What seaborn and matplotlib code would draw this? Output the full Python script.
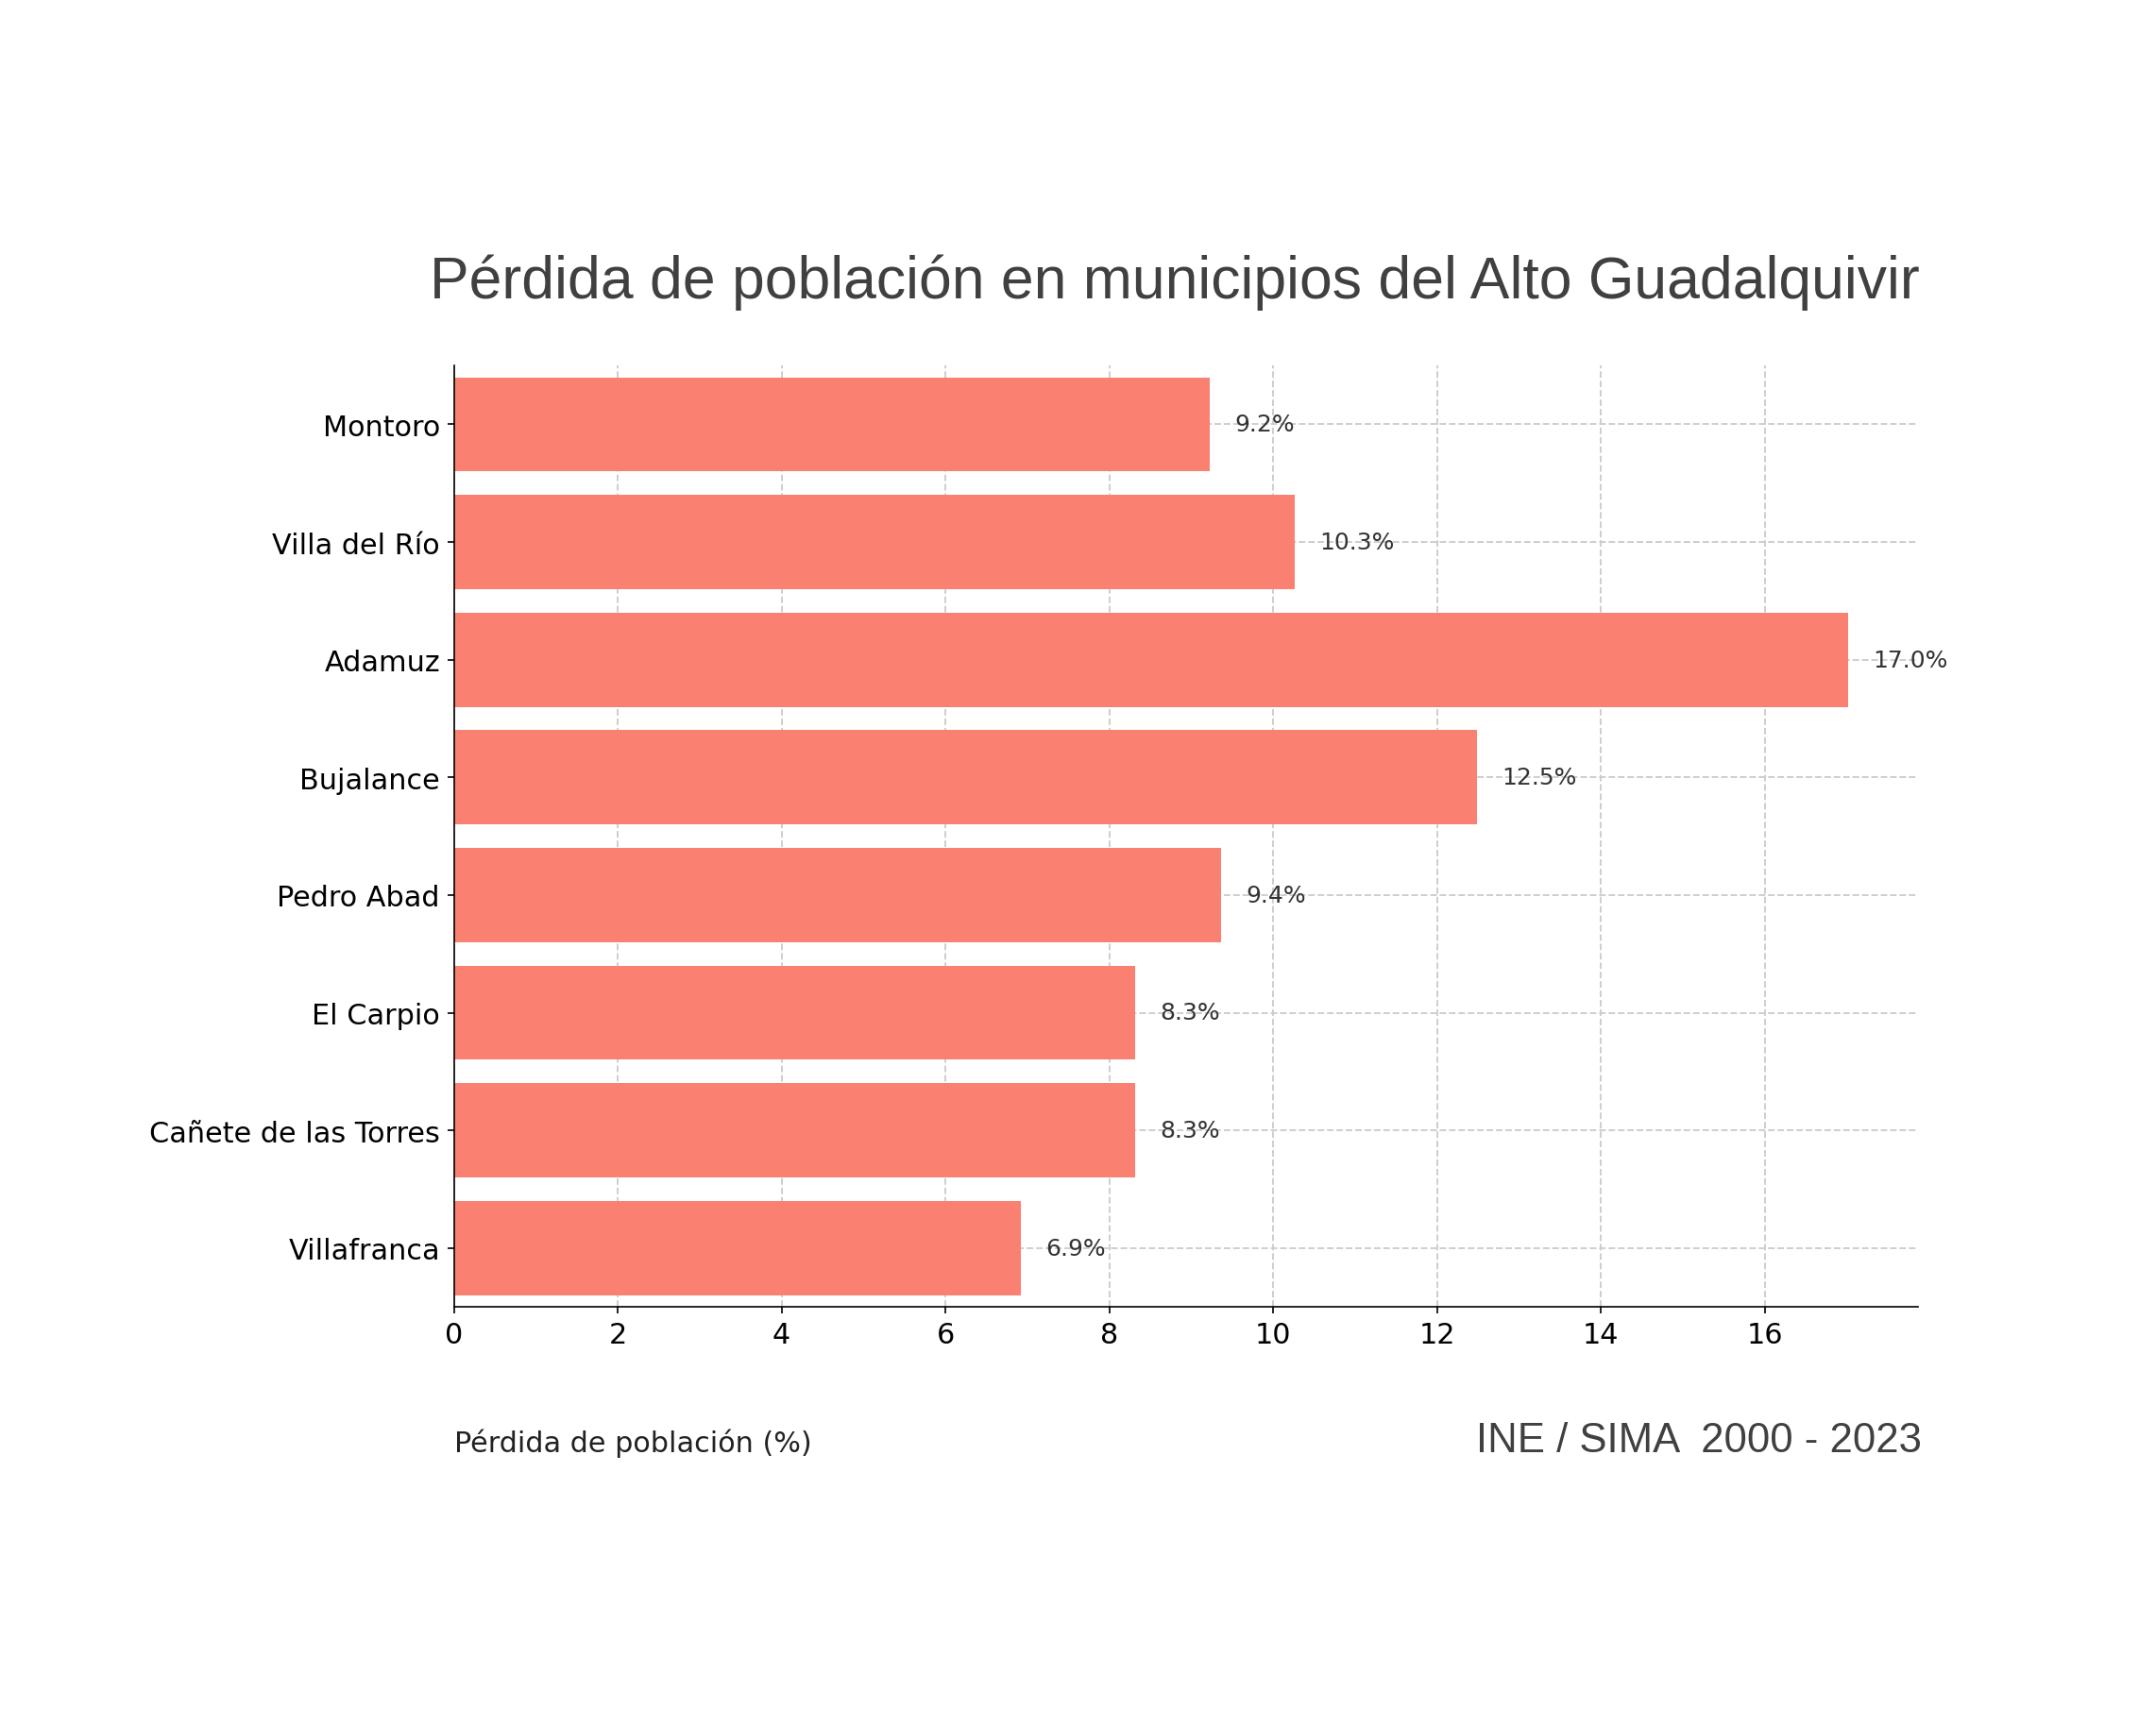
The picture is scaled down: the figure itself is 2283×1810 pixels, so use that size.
import matplotlib
matplotlib.use("Agg")
import matplotlib.pyplot as plt
import seaborn as sns
import pandas as pd

municipios = ["Montoro", "Villa del Río", "Adamuz", "Bujalance", "Pedro Abad",
              "El Carpio", "Cañete de las Torres", "Villafranca"]
perdida = [9.23, 10.27, 17.02, 12.49, 9.37, 8.32, 8.32, 6.92]
etiquetas = ["9.2%", "10.3%", "17.0%", "12.5%", "9.4%", "8.3%", "8.3%", "6.9%"]

df = pd.DataFrame({"municipio": municipios, "perdida": perdida})

fig = plt.figure(figsize=(15.22, 12.073), dpi=150)
ax = fig.add_axes([0.2105, 0.2352, 0.679, 0.5505])
sns.barplot(data=df, y="municipio", x="perdida", color="#FA8072", saturation=1,
            width=0.8, ax=ax, zorder=2)
ax.set_xlim(0, 17.87)
ax.set_ylim(7.5, -0.5)
ax.grid(True, linestyle="--", color="#cccccc", linewidth=0.9, zorder=0)
ax.set_axisbelow(True)
for s in ["top", "right"]:
    ax.spines[s].set_visible(False)
ax.set_xlabel("")
ax.set_ylabel("")
ax.tick_params(labelsize=14.5)
for i, (v, t) in enumerate(zip(perdida, etiquetas)):
    ax.text(v + 0.3, i, t, va="center", ha="left", fontsize=12, color="#333333")

fig.text(0.545, 0.835, "Pérdida de población en municipios del Alto Guadalquivir",
         ha="center", va="center", fontsize=30, color="#404040", family="Liberation Sans")
fig.text(0.2105, 0.156, "Pérdida de población (%)", ha="left", va="center",
         fontsize=14.5, color="#222222")
fig.text(0.8915, 0.157, "INE / SIMA  2000 - 2023", ha="right", va="center",
         fontsize=21, color="#404040", family="Liberation Sans")
fig.savefig("out.png", dpi=150)
